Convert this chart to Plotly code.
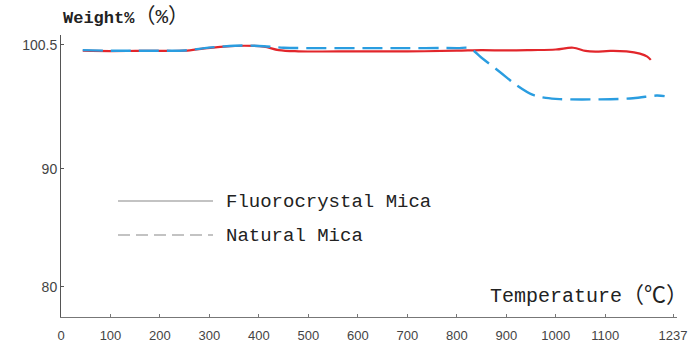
import plotly.graph_objects as go

# Fluorocrystal Mica (solid red)
temp_fluoro = [44, 100, 150, 200, 250, 290, 330, 370, 410, 440, 480, 600, 700, 800, 850, 900, 950, 1000, 1035, 1060, 1080, 1110, 1143, 1170, 1185, 1192]
weight_fluoro = [100.0, 99.97, 99.98, 99.98, 100.0, 100.2, 100.35, 100.42, 100.35, 100.05, 99.95, 99.94, 99.94, 100.0, 100.05, 100.02, 100.05, 100.1, 100.25, 99.98, 99.92, 99.98, 99.94, 99.75, 99.5, 99.22]

# Natural Mica (dashed blue)
temp_natural = [44, 100, 150, 200, 250, 290, 330, 370, 410, 450, 500, 600, 700, 800, 826, 850, 887, 920, 954, 980, 1008, 1089, 1156, 1204, 1220]
weight_natural = [100.05, 100.0, 100.0, 100.0, 100.02, 100.22, 100.37, 100.44, 100.38, 100.25, 100.22, 100.22, 100.22, 100.22, 100.2, 99.4, 98.2, 97.1, 96.25, 96.0, 95.9, 95.88, 95.97, 96.2, 96.15]

x_tickvals = [0, 100, 200, 300, 400, 500, 600, 700, 800, 900, 1000, 1100, 1237]
x_ticktext = ["0", "100", "200", "300", "400", "500", "600", "700", "800", "900", "1000", "1100", "1237"]
y_tickvals = [80, 90, 100.5]
y_ticktext = ["80", "90", "100.5"]

legend_names = ["Fluorocrystal Mica", "Natural Mica"]

fig = go.Figure()
fig.add_trace(go.Scatter(x=temp_fluoro, y=weight_fluoro, mode="lines", line=dict(color="#e2262b", width=2.2, shape="spline"), showlegend=False))
fig.add_trace(go.Scatter(x=temp_natural, y=weight_natural, mode="lines", line=dict(color="#2a9de0", width=2.4, dash="20px,8px", shape="spline"), showlegend=False))

mono = "Liberation Mono, Noto Sans CJK SC, monospace"
W = 616.0
H = 282.0

# legend drawn with shapes + annotations
fig.add_shape(type="line", xref="paper", yref="paper", x0=(118-61)/W, x1=(213-61)/W, y0=(317-201)/H, y1=(317-201)/H, line=dict(color="#888", width=1.2))
fig.add_shape(type="line", xref="paper", yref="paper", x0=(118-61)/W, x1=(213-61)/W, y0=(317-235)/H, y1=(317-235)/H, line=dict(color="#888", width=1.2, dash="12px,6px"))
fig.add_annotation(xref="paper", yref="paper", x=(224-61)/W, y=(317-202)/H, text=legend_names[0], showarrow=False, xanchor="left", yanchor="middle", font=dict(family=mono, size=19, color="#222"))
fig.add_annotation(xref="paper", yref="paper", x=(224-61)/W, y=(317-236)/H, text=legend_names[1], showarrow=False, xanchor="left", yanchor="middle", font=dict(family=mono, size=19, color="#222"))

# axis titles
fig.add_annotation(xref="paper", yref="paper", x=0, y=(317-17)/H, text="<b>Weight%</b><span style='font-size:21px'>（%）</span>", showarrow=False, xanchor="left", yanchor="middle", font=dict(family=mono, size=17, color="#222"))
fig.add_annotation(xref="paper", yref="paper", x=(690-61)/W, y=(317-296)/H, text="Temperature<span style='font-size:22px'>（℃）</span>", showarrow=False, xanchor="right", yanchor="middle", font=dict(family=mono, size=20, color="#222"))

fig.update_xaxes(range=[0, 1245], tickvals=x_tickvals, ticktext=x_ticktext, showgrid=False, zeroline=False,
                 showline=True, linecolor="#777", linewidth=1, ticks="inside", ticklen=3, tickcolor="#777",
                 ticklabelstandoff=6, automargin=False,
                 tickfont=dict(family="Liberation Sans, Arial", size=13, color="#444"))
fig.update_yaxes(range=[77.44, 101.33], tickvals=y_tickvals, ticktext=y_ticktext, showgrid=False, zeroline=False,
                 showline=True, linecolor="#555", linewidth=1, ticks="inside", ticklen=3, tickcolor="#555",
                 automargin=False,
                 tickfont=dict(family="Liberation Sans, Arial", size=14, color="#444"))

fig.update_layout(width=692, height=345, margin=dict(l=61, r=15, t=35, b=28),
                  paper_bgcolor="white", plot_bgcolor="white")
fig.write_html("out.html")
